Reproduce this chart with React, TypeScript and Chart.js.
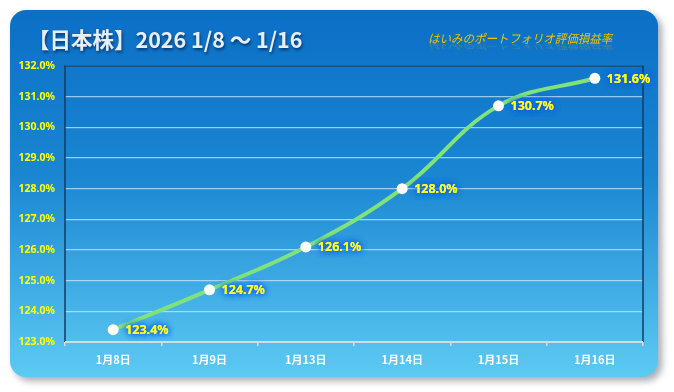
import React, { useEffect, useRef } from "react";
import Chart from "chart.js/auto";

const categories = ["1月8日", "1月9日", "1月13日", "1月14日", "1月15日", "1月16日"];
const values = [123.4, 124.7, 126.1, 128.0, 130.7, 131.6];
const yMin = 123;
const yMax = 132;
const yStep = 1;
const titleText = "【日本株】2026 1/8 〜 1/16";
const subtitleText = "はいみのポートフォリオ評価損益率";

function roundRect(ctx: CanvasRenderingContext2D, x: number, y: number, w: number, h: number, r: number) {
  ctx.beginPath();
  ctx.moveTo(x + r, y);
  ctx.lineTo(x + w - r, y);
  ctx.arcTo(x + w, y, x + w, y + r, r);
  ctx.lineTo(x + w, y + h - r);
  ctx.arcTo(x + w, y + h, x + w - r, y + h, r);
  ctx.lineTo(x + r, y + h);
  ctx.arcTo(x, y + h, x, y + h - r, r);
  ctx.lineTo(x, y + r);
  ctx.arcTo(x, y, x + r, y, r);
  ctx.closePath();
}

const bgPlugin = {
  id: "cardBg",
  beforeDraw(chart: any) {
    const ctx = chart.ctx as CanvasRenderingContext2D;
    ctx.save();
    const x = 10, y = 10, w = 648, h = 367;
    ctx.shadowColor = "rgba(60,70,90,0.45)";
    ctx.shadowBlur = 7;
    ctx.shadowOffsetX = 4;
    ctx.shadowOffsetY = 4;
    const g = ctx.createLinearGradient(0, y, 0, y + h);
    g.addColorStop(0, "#0b6fc6");
    g.addColorStop(0.45, "#1a86d2");
    g.addColorStop(1, "#5dcaf3");
    ctx.fillStyle = g;
    roundRect(ctx, x, y, w, h, 16);
    ctx.fill();
    ctx.restore();

    // title
    ctx.save();
    ctx.font = "bold 21.5px 'Noto Sans CJK JP', 'Noto Sans', sans-serif";
    ctx.textBaseline = "middle";
    ctx.textAlign = "left";
    ctx.shadowColor = "rgba(0,30,70,0.7)";
    ctx.shadowBlur = 3;
    ctx.shadowOffsetX = 1;
    ctx.shadowOffsetY = 2;
    ctx.fillStyle = "#e8eef8";
    ctx.fillText(titleText, 28, 40);
    ctx.restore();

    // subtitle with reflection
    ctx.save();
    ctx.font = "italic 12px 'Noto Sans CJK JP', sans-serif";
    ctx.textBaseline = "alphabetic";
    ctx.textAlign = "left";
    ctx.fillStyle = "#efc200";
    ctx.translate(428, 0);
    ctx.scale(0.96, 1);
    ctx.fillText(subtitleText, 0, 43);
    ctx.globalAlpha = 0.22;
    ctx.translate(0, 44);
    ctx.scale(1, -0.6);
    ctx.fillText(subtitleText, 0, 0);
    ctx.restore();
  },
  afterDraw(chart: any) {
    const ctx = chart.ctx as CanvasRenderingContext2D;
    const a = chart.chartArea;
    ctx.save();
    ctx.strokeStyle = "#123c63";
    ctx.lineWidth = 1.5;
    ctx.beginPath();
    ctx.moveTo(a.left, a.bottom);
    ctx.lineTo(a.left, a.top);
    ctx.lineTo(a.right, a.top);
    ctx.lineTo(a.right, a.bottom);
    ctx.stroke();
    ctx.strokeStyle = "#d4dbe3";
    ctx.lineWidth = 2;
    ctx.beginPath();
    ctx.moveTo(a.left, a.bottom);
    ctx.lineTo(a.right, a.bottom);
    ctx.stroke();
    ctx.restore();

    // data labels
    const meta = chart.getDatasetMeta(0);
    ctx.save();
    ctx.font = "bold 12.5px 'Noto Sans', 'DejaVu Sans', sans-serif";
    ctx.textAlign = "left";
    ctx.textBaseline = "middle";
    meta.data.forEach((pt: any, i: number) => {
      const t = values[i].toFixed(1) + "%";
      ctx.shadowColor = "rgba(16,96,240,1)";
      ctx.shadowBlur = 6;
      ctx.fillStyle = "#ffff1a";
      for (let k = 0; k < 3; k++) ctx.fillText(t, pt.x + 12, pt.y + 1);
    });
    ctx.restore();
  },
};

export default function App() {
  const ref = useRef<HTMLCanvasElement | null>(null);
  useEffect(() => {
    document.body.style.margin = "0";
    const chart = new Chart(ref.current as HTMLCanvasElement, {
      type: "line",
      data: {
        labels: categories,
        datasets: [
          {
            data: values,
            borderColor: "#80e27a",
            borderWidth: 4,
            tension: 0.4,
            pointRadius: 5.5,
            pointBackgroundColor: "#ffffff",
            pointBorderColor: "#ffffff",
            pointBorderWidth: 0,
          },
        ],
      },
      options: {
        responsive: false,
        animation: false,
        layout: { padding: { left: 10, right: 31, top: 66, bottom: 18 } },
        plugins: { legend: { display: false }, tooltip: { enabled: false } },
        scales: {
          x: {
            offset: true,
            grid: {
              offset: true,
              drawOnChartArea: false,
              drawTicks: true,
              tickLength: 4,
              color: "#d4dbe3",
              lineWidth: 1.5,
            },
            border: { display: false },
            ticks: {
              color: "#ffffff",
              padding: 7,
              font: { family: "'Noto Sans CJK JP', sans-serif", size: 11, weight: "bold" },
            },
            afterFit: (s: any) => {
              s.height = 32;
            },
          },
          y: {
            min: yMin,
            max: yMax,
            ticks: {
              stepSize: yStep,
              color: "#ffff00",
              padding: 10,
              font: { family: "'Noto Sans', sans-serif", size: 10.5, weight: "bold" },
              callback: (v: any) => Number(v).toFixed(1) + "%",
            },
            grid: { color: "rgba(200,230,255,0.75)", lineWidth: 1.2, drawTicks: false },
            border: { display: false },
            afterFit: (s: any) => {
              s.width = 55;
            },
          },
        },
      },
      plugins: [bgPlugin],
    } as any);
    return () => chart.destroy();
  }, []);
  return <canvas ref={ref} width={674} height={392} style={{ display: "block", width: 674, height: 392 }} />;
}
